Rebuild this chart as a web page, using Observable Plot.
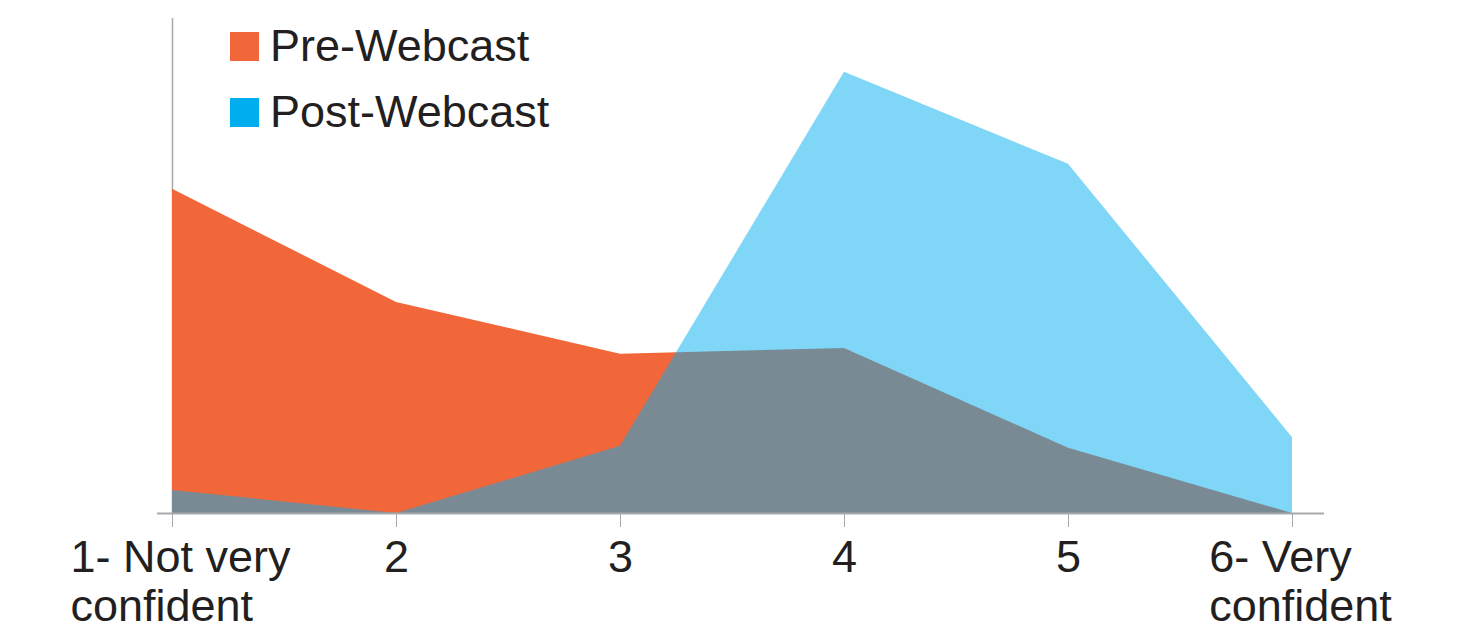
<!DOCTYPE html>
<html>
<head>
<meta charset="utf-8">
<script src="https://cdn.jsdelivr.net/npm/d3@7"></script>
<script src="https://cdn.jsdelivr.net/npm/@observablehq/plot@0.6"></script>
<style>
  html, body { margin: 0; padding: 0; background: #fff; }
  #wrap { position: relative; width: 1463px; height: 627px; font-family: "Liberation Sans", Arial, sans-serif; }
  #legend { position: absolute; left: 230px; top: 13px; font-size: 45px; color: #231F20; line-height: 66px; }
  #legend .item { display: flex; align-items: center; }
  #legend .sw { width: 29px; height: 29px; margin-right: 11px; display: inline-block; }
</style>
</head>
<body>
<div id="wrap"><div id="legend"></div></div>
<script>
const categories = ["1- Not very\nconfident", "2", "3", "4", "5", "6- Very\nconfident"];
const preWebcast = [33.8, 22.0, 16.6, 17.2, 6.8, 0];
const postWebcast = [2.4, 0, 7.0, 46.0, 36.4, 7.9];
const seriesNames = ["Pre-Webcast", "Post-Webcast"];
const seriesColors = ["#F26739", "#00AEEF"];

const pre = categories.map((c, i) => ({category: c, value: preWebcast[i]}));
const post = categories.map((c, i) => ({category: c, value: postWebcast[i]}));

const chart = Plot.plot({
  width: 1463,
  height: 627,
  marginLeft: 172,
  marginRight: 171,
  marginTop: 18,
  marginBottom: 114,
  style: {fontFamily: "Liberation Sans, Arial, sans-serif", color: "#231F20", background: "#fff"},
  x: {type: "point", domain: categories, padding: 0},
  y: {domain: [0, 51.6], axis: null},
  marks: [
    Plot.ruleX([categories[0]], {y1: 0, y2: 51.6, stroke: "#A7A9AC", strokeWidth: 1.5}),
    Plot.areaY(pre, {x: "category", y: "value", fill: seriesColors[0]}),
    Plot.areaY(post, {x: "category", y: "value", fill: seriesColors[1], fillOpacity: 0.5}),
    Plot.ruleY([0], {stroke: "#A7A9AC", strokeWidth: 2, insetLeft: -15, insetRight: -32}),
    Plot.axisX({tickSize: 14, tickPadding: 10, stroke: "#A7A9AC", fill: "#231F20", fontSize: 45, lineHeight: 1.08, label: null})
  ]
});
const wrap = document.getElementById("wrap");
wrap.insertBefore(chart, wrap.firstChild);

// left-align the lines of multi-line tick labels as a block centred on the tick
chart.querySelectorAll("text").forEach(t => {
  const spans = t.querySelectorAll("tspan");
  if (spans.length > 1) {
    let maxW = 0;
    spans.forEach(s => { maxW = Math.max(maxW, s.getComputedTextLength()); });
    t.setAttribute("text-anchor", "start");
    spans.forEach(s => s.setAttribute("x", -maxW / 2 + 8));
  }
});

const legend = document.getElementById("legend");
seriesNames.forEach((n, i) => {
  const item = document.createElement("div");
  item.className = "item";
  const sw = document.createElement("span");
  sw.className = "sw";
  sw.style.background = seriesColors[i];
  item.appendChild(sw);
  item.appendChild(document.createTextNode(n));
  legend.appendChild(item);
});
</script>
</body>
</html>
